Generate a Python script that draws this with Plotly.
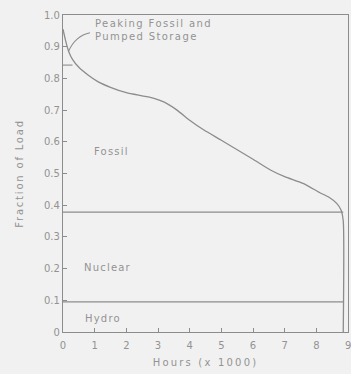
import plotly.graph_objects as go

# Load duration curve (hours in thousands, fraction of peak load)
hours = [0.0, 0.08, 0.18, 0.3, 0.5, 0.8, 1.1, 1.5, 2.0, 2.5, 2.85, 3.2, 3.6,
         4.0, 4.45, 5.0, 5.5, 6.0, 6.55, 7.0, 7.6, 8.1, 8.4, 8.65, 8.78, 8.85, 8.85]
load = [0.955, 0.92, 0.885, 0.86, 0.835, 0.81, 0.79, 0.772, 0.755, 0.745, 0.738,
        0.725, 0.70, 0.668, 0.637, 0.605, 0.575, 0.545, 0.511, 0.49, 0.468,
        0.44, 0.425, 0.405, 0.385, 0.35, 0.0]

# Base-load boundaries
hydro_level = 0.095
nuclear_level = 0.378
peaking_level = 0.842
peaking_end = 0.3
year_end = 8.85

x_ticks = [0, 1, 2, 3, 4, 5, 6, 7, 8]
x_last_tick = 9
y_ticks = [0, 0.1, 0.2, 0.3, 0.4, 0.5, 0.6, 0.7, 0.8, 0.9, 1.0]
y_tick_text = ["0", "0.1", "0.2", "0.3", "0.4", "0.5", "0.6", "0.7", "0.8", "0.9", "1.0"]

region_labels = ["Fossil", "Nuclear", "Hydro"]
region_x = [0.92, 0.6, 0.63]
region_y = [0.568, 0.205, 0.044]

line_col = "#8c8c8c"
text_col = "#939393"
bg = "#f1f1f1"
font = "DejaVu Sans"


def spaced(s, px=1.2):
    return f'<span style="letter-spacing:{px}px">{s}</span>'


fig = go.Figure()

fig.add_trace(go.Scatter(x=hours, y=load, mode="lines",
                         line=dict(color=line_col, width=1.3, shape="spline", smoothing=0.6),
                         hoverinfo="skip", showlegend=False))

fig.add_trace(go.Scatter(x=[0, year_end], y=[nuclear_level, nuclear_level], mode="lines",
                         line=dict(color=line_col, width=1.1), showlegend=False))
fig.add_trace(go.Scatter(x=[0, year_end], y=[hydro_level, hydro_level], mode="lines",
                         line=dict(color=line_col, width=1.1), showlegend=False))
fig.add_trace(go.Scatter(x=[0, peaking_end], y=[peaking_level, peaking_level], mode="lines",
                         line=dict(color=line_col, width=1.1), showlegend=False))

# Leader from the peaking label to the peak spike
fig.add_shape(type="path", path="M 0.85,0.944 Q 0.4,0.935 0.17,0.885",
              line=dict(color=line_col, width=1.1), xref="x", yref="y")

fig.add_annotation(x=0.95, y=0.953,
                   text=spaced("Peaking Fossil and", 1.4) + "<br>" + spaced("Pumped Storage", 1.4),
                   showarrow=False, xanchor="left", yanchor="middle", align="left",
                   font=dict(family=font, size=10, color=text_col))
for t, xx, yy in zip(region_labels, region_x, region_y):
    fig.add_annotation(x=xx, y=yy, text=spaced(t), showarrow=False, xanchor="left",
                       font=dict(family=font, size=10, color=text_col))

# Last hour tick label sits on the frame edge
fig.add_annotation(x=x_last_tick, y=0, yshift=-13, text=str(x_last_tick), showarrow=False,
                   xanchor="center", font=dict(family=font, size=10, color=text_col))

axis_common = dict(showline=True, linecolor=line_col, linewidth=1.2, mirror=True,
                   showgrid=False, zeroline=False, ticks="inside", ticklen=4,
                   tickcolor=line_col, tickfont=dict(family=font, size=10, color=text_col))

fig.update_layout(
    width=351, height=374,
    margin=dict(l=63, r=3, t=15, b=42),
    paper_bgcolor=bg, plot_bgcolor=bg,
    xaxis=dict(range=[0, 9], tickvals=x_ticks + [x_last_tick],
               ticktext=[str(v) for v in x_ticks] + [""], ticklabelstandoff=4,
               title=dict(text=spaced("Hours (x 1000)", 2.2), standoff=8,
                          font=dict(family=font, size=10, color=text_col)),
               **axis_common),
    yaxis=dict(range=[0, 1.0], tickvals=y_ticks, ticktext=y_tick_text,
               title=dict(text=spaced("Fraction of Load", 1.8), standoff=18,
                          font=dict(family=font, size=10, color=text_col)),
               **axis_common),
)

fig.write_html("out.html")
